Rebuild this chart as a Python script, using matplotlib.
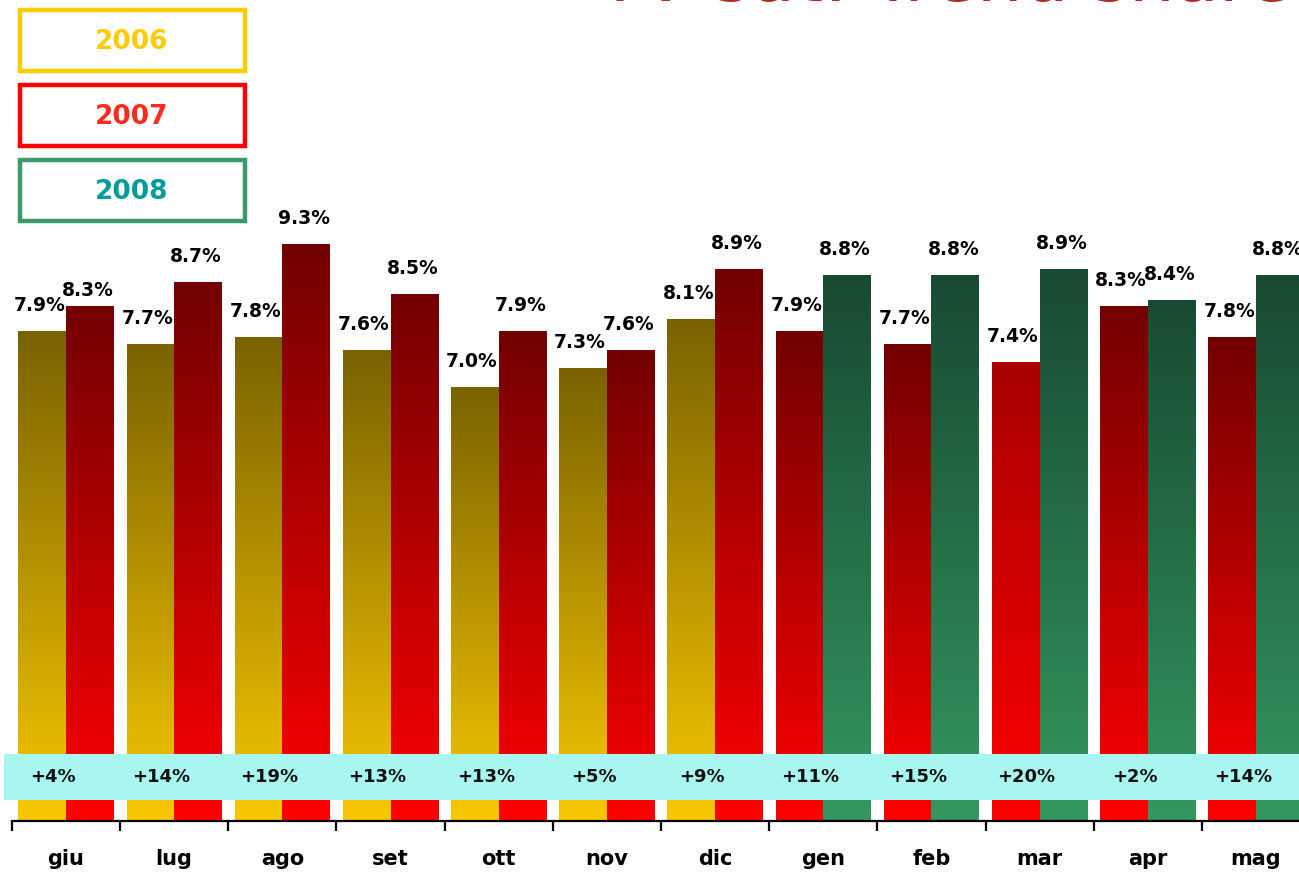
import numpy as np
import matplotlib
matplotlib.use("Agg")
import matplotlib.pyplot as plt
from matplotlib.colors import LinearSegmentedColormap
from matplotlib.patches import Rectangle
from matplotlib.transforms import blended_transform_factory

# data
months = ["giu", "lug", "ago", "set", "ott", "nov", "dic", "gen", "feb", "mar", "apr", "mag"]
prev_share = [7.9, 7.7, 7.8, 7.6, 7.0, 7.3, 8.1, 7.9, 7.7, 7.4, 8.3, 7.8]
curr_share = [8.3, 8.7, 9.3, 8.5, 7.9, 7.6, 8.9, 8.8, 8.8, 8.9, 8.4, 8.8]
prev_year = [2006] * 7 + [2007] * 5
curr_year = [2007] * 7 + [2008] * 5
growth_pct = [4, 14, 19, 13, 13, 5, 9, 11, 15, 20, 2, 14]
years = [2006, 2007, 2008]

# gradient (top, bottom) per year
year_grad = {
    2006: ("#7a6200", "#f8c800"),
    2007: ("#720000", "#ff0000"),
    2008: ("#184a32", "#33985f"),
}
legend_edge = {2006: "#ffcc00", 2007: "#ff0000", 2008: "#3a9a6a"}
legend_text = {2006: "#ffcc00", 2007: "#ff2a1a", 2008: "#009b9b"}

W, H = 1299, 875
fig = plt.figure(figsize=(W / 100, H / 100), dpi=100)
ax = fig.add_axes([11.9 / W, (H - 821) / H, 1298.2 / W, 821 / H])

bw = 0.44
x = np.arange(len(months))
grad = np.linspace(0, 1, 256).reshape(-1, 1)


def gradient_bars(xpos, vals, yrs, top_override=None):
    bars = ax.bar(xpos, vals, width=bw, facecolor="none", edgecolor="none", zorder=2)
    for k, (bar, yr) in enumerate(zip(bars, yrs)):
        top_c, bot_c = year_grad[yr]
        if top_override and k in top_override:
            top_c = top_override[k]
        cmap = LinearSegmentedColormap.from_list("g", [bot_c, top_c])
        x0, y0 = bar.get_xy()
        im = ax.imshow(grad, extent=[x0, x0 + bar.get_width(), y0, y0 + bar.get_height()],
                       origin="lower", aspect="auto", cmap=cmap, zorder=2)
        im.set_clip_path(bar)
    return bars


b_prev = gradient_bars(x - bw / 2, prev_share, prev_year, top_override={9: "#a80000"})
b_curr = gradient_bars(x + bw / 2, curr_share, curr_year)

ax.set_xlim(-0.5, len(months) - 0.5)
ax.set_ylim(0, 821 / 62)

# value labels
lift_curr = {0: 10}
for i in range(len(months)):
    ax.annotate(f"{prev_share[i]:.1f}%", (x[i] - bw / 2, prev_share[i]), xytext=(-3, 20),
                textcoords="offset pixels", ha="center", va="baseline",
                fontsize=13.5, fontweight="bold", color="black", zorder=5)
    ax.annotate(f"{curr_share[i]:.1f}%", (x[i] + bw / 2, curr_share[i]),
                xytext=(-2, lift_curr.get(i, 20)),
                textcoords="offset pixels", ha="center", va="baseline",
                fontsize=13.5, fontweight="bold", color="black", zorder=5)

# growth band
band_tr = blended_transform_factory(ax.transAxes, ax.transData)
ax.add_patch(Rectangle((-0.006, 21 / 62), 1.01, 46 / 62, transform=band_tr,
                       facecolor="#a8f6ef", edgecolor="none", zorder=3, clip_on=False))
for i, g in enumerate(growth_pct):
    ax.text(x[i] - 0.12, 44 / 62, f"+{g}%", ha="center", va="center",
            fontsize=13, fontweight="bold", color="#111111", zorder=4)

# axes styling
for s in ["top", "right", "left"]:
    ax.spines[s].set_visible(False)
ax.spines["bottom"].set_linewidth(1.6)
ax.set_yticks([])
ax.set_xticks(x)
ax.set_xticklabels(months, fontsize=15, fontweight="bold")
ax.tick_params(axis="x", which="major", length=0, pad=20)
ax.set_xticks(np.arange(-0.5, len(months)), minor=True)
ax.tick_params(axis="x", which="minor", length=7, width=1.6, direction="out")

# legend boxes
for k, yr in enumerate(years):
    top = 10 + 75 * k
    fig.patches.append(Rectangle((20 / W, 1 - (top + 61) / H), 225 / W, 61 / H,
                                 transform=fig.transFigure, facecolor="white",
                                 edgecolor=legend_edge[yr], linewidth=3.2))
    fig.text(132 / W, 1 - (top + 32) / H, str(yr), ha="center", va="center",
             fontsize=19, fontweight="bold", color=legend_text[yr])

# title, cut off by the top edge
fig.text(597 / W, 1 - 1 / H, "TV sat: Trend share", ha="left", va="baseline",
         fontsize=52, color="#b02a1e")

fig.savefig("out.png", dpi=100)
